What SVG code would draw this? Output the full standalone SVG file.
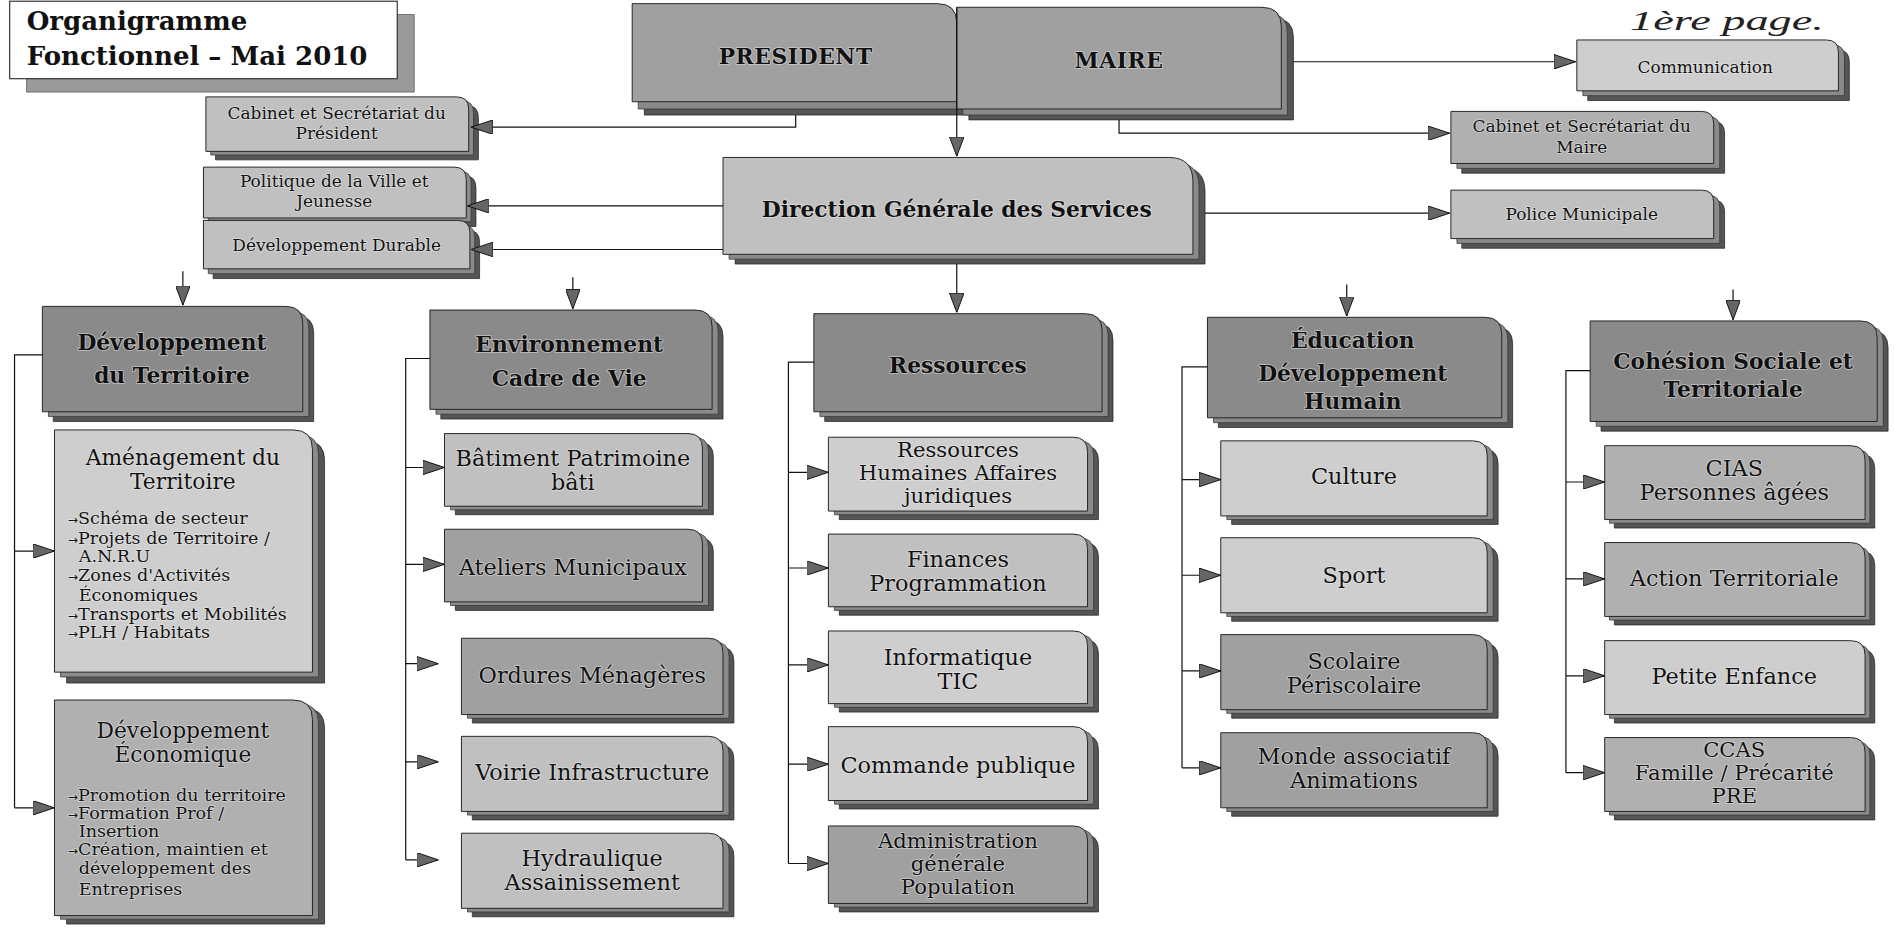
<svg xmlns="http://www.w3.org/2000/svg" xmlns:xlink="http://www.w3.org/1999/xlink" width="1899" height="938" viewBox="0 0 1899 938">
<style>
.face{stroke:#222;stroke-width:.8}
.shA{fill:#555;stroke:#222;stroke-width:.6}
.shB{fill:#8a8a8a;stroke:#333;stroke-width:.6}
.f1{fill:#cecece}.f2{fill:#c0c0c0}.f3{fill:#b0b0b0}.f4{fill:#a0a0a0}.f5{fill:#8a8a8a}
.t{font-family:"DejaVu Serif","Liberation Serif",serif;text-anchor:middle;fill:#111;stroke:#f2f2f2;stroke-opacity:.55;stroke-width:1.4;paint-order:stroke;stroke-linejoin:round}
.hd{font-weight:bold;font-size:18px}
.sb{font-size:18.5px}
.s3{font-size:17.5px}
.sm{font-size:14px}
.bt{font-size:18px}
.bl{font-size:14.5px;text-anchor:start}
.ar{font-family:"DejaVu Sans",sans-serif;font-size:10px}
.ln{fill:none;stroke:#111;stroke-width:1}
.title{font-family:"DejaVu Serif","Liberation Serif",serif;font-weight:bold;font-size:21.5px;fill:#111}
</style>
<defs>
<marker id="ah" viewBox="0 0 18 12" refX="18" refY="6" markerWidth="18" markerHeight="12" markerUnits="userSpaceOnUse" orient="auto"><path d="M0,0 L18,6 L0,12 Z" fill="#666" stroke="#111" stroke-width="0.8"/></marker>
<marker id="ahd" viewBox="0 0 16 12" refX="16" refY="6" markerWidth="16" markerHeight="12" markerUnits="userSpaceOnUse" orient="auto"><path d="M0,0 L16,6 L0,12 Z" fill="#666" stroke="#111" stroke-width="0.8"/></marker>
<path id="s-pres" d="M522,84 V3 H774 Q790,3 790,19 V84 Z"/>
<path id="s-maire" d="M790,90 V6 H1042 Q1058,6 1058,22 V90 Z"/>
<path id="s-dgs" d="M597,210 V130 H965 Q985,130 985,150 V210 Z"/>
<path id="s-comm" d="M1302,75 V33 H1508 Q1518,33 1518,43 V75 Z"/>
<path id="s-cabm" d="M1198,135 V92 H1405 Q1415,92 1415,102 V135 Z"/>
<path id="s-pol" d="M1198,197 V157 H1405 Q1415,157 1415,167 V197 Z"/>
<path id="s-cabp" d="M170,125 V80 H377 Q387,80 387,90 V125 Z"/>
<path id="s-pv" d="M168,180 V138 H375 Q385,138 385,148 V180 Z"/>
<path id="s-dd" d="M168,222 V182 H378 Q388,182 388,192 V222 Z"/>
<path id="s-h1" d="M35,340 V253 H236 Q250,253 250,267 V340 Z"/>
<path id="s-h2" d="M355,338 V256 H574 Q588,256 588,270 V338 Z"/>
<path id="s-h3" d="M672,340 V259 H896 Q910,259 910,273 V340 Z"/>
<path id="s-h4" d="M997,345 V262 H1226 Q1240,262 1240,276 V345 Z"/>
<path id="s-h5" d="M1313,348 V265 H1536 Q1550,265 1550,279 V348 Z"/>
<path id="s-am" d="M45,555 V355 H242 Q258,355 258,371 V555 Z"/>
<path id="s-de" d="M45,756 V578 H242 Q258,578 258,594 V756 Z"/>
<path id="s-bat" d="M367,418 V358 H568 Q580,358 580,370 V418 Z"/>
<path id="s-ate" d="M367,497 V437 H568 Q580,437 580,449 V497 Z"/>
<path id="s-ord" d="M381,590 V527 H585 Q597,527 597,539 V590 Z"/>
<path id="s-voi" d="M381,670 V608 H585 Q597,608 597,620 V670 Z"/>
<path id="s-hyd" d="M381,750 V688 H585 Q597,688 597,700 V750 Z"/>
<path id="s-rh" d="M684,422 V361 H886 Q898,361 898,373 V422 Z"/>
<path id="s-fin" d="M684,501 V441 H886 Q898,441 898,453 V501 Z"/>
<path id="s-inf" d="M684,581 V521 H886 Q898,521 898,533 V581 Z"/>
<path id="s-cmd" d="M684,661 V600 H886 Q898,600 898,612 V661 Z"/>
<path id="s-adm" d="M684,746 V682 H886 Q898,682 898,694 V746 Z"/>
<path id="s-cul" d="M1008,426 V364 H1216 Q1228,364 1228,376 V426 Z"/>
<path id="s-spo" d="M1008,506 V444 H1216 Q1228,444 1228,456 V506 Z"/>
<path id="s-sco" d="M1008,586 V524 H1216 Q1228,524 1228,536 V586 Z"/>
<path id="s-mon" d="M1008,667 V605 H1216 Q1228,605 1228,617 V667 Z"/>
<path id="s-cias" d="M1325,429 V368 H1528 Q1540,368 1540,380 V429 Z"/>
<path id="s-act" d="M1325,509 V448 H1528 Q1540,448 1540,460 V509 Z"/>
<path id="s-pet" d="M1325,590 V529 H1528 Q1540,529 1540,541 V590 Z"/>
<path id="s-ccas" d="M1325,670 V609 H1528 Q1540,609 1540,621 V670 Z"/>
</defs>
<rect width="1899" height="938" fill="#fff"/>
<g transform="scale(1.21109)">

<g id="title">
<rect x="22" y="12" width="320" height="64" fill="#9a9a9a" stroke="#555" stroke-width=".6"/>
<rect x="8" y="1" width="320" height="64" fill="#fff" stroke="#222" stroke-width=".9"/>
<text class="title" x="22" y="25">Organigramme</text>
<text class="title" x="22" y="54">Fonctionnel – Mai 2010</text>
</g>

<g id="handnote">
<text x="1346" y="25" font-family="Liberation Serif, serif" font-style="italic" font-size="23" fill="#222" textLength="160" lengthAdjust="spacingAndGlyphs">1ère page.</text>
</g>

<g id="n-president">
<use href="#s-pres" class="shA" transform="translate(10,11)"/>
<use href="#s-pres" class="shB" transform="translate(5,6)"/>
<use href="#s-pres" class="face f4"/>
<text class="t hd" x="657" y="53" letter-spacing=".5">PRESIDENT</text>
</g>
<g id="n-maire">
<use href="#s-maire" class="shA" transform="translate(10,9)"/>
<use href="#s-maire" class="shB" transform="translate(5,5)"/>
<use href="#s-maire" class="face f4"/>
<text class="t hd" x="924" y="56" letter-spacing=".5">MAIRE</text>
</g>
<g id="n-dgs">
<use href="#s-dgs" class="shA" transform="translate(10,8)"/>
<use href="#s-dgs" class="shB" transform="translate(5,4)"/>
<use href="#s-dgs" class="face f2"/>
<text class="t hd" x="790" y="179">Direction Générale des Services</text>
</g>
<g id="n-communication">
<use href="#s-comm" class="shA" transform="translate(9,8)"/>
<use href="#s-comm" class="shB" transform="translate(5,4)"/>
<use href="#s-comm" class="face f1"/>
<text class="t sm" x="1408" y="60">Communication</text>
</g>
<g id="n-cabinet-maire">
<use href="#s-cabm" class="shA" transform="translate(9,8)"/>
<use href="#s-cabm" class="shB" transform="translate(5,4)"/>
<use href="#s-cabm" class="face f3"/>
<text class="t sm" x="1306" y="109">Cabinet et Secrétariat du</text>
<text class="t sm" x="1306" y="126">Maire</text>
</g>
<g id="n-police">
<use href="#s-pol" class="shA" transform="translate(9,8)"/>
<use href="#s-pol" class="shB" transform="translate(5,4)"/>
<use href="#s-pol" class="face f2"/>
<text class="t sm" x="1306" y="182">Police Municipale</text>
</g>
<g id="n-cabinet-president">
<use href="#s-cabp" class="shA" transform="translate(8,7)"/>
<use href="#s-cabp" class="shB" transform="translate(4,3)"/>
<use href="#s-cabp" class="face f2"/>
<text class="t sm" x="278" y="98">Cabinet et Secrétariat du</text>
<text class="t sm" x="278" y="115">Président</text>
</g>
<g id="n-politique">
<use href="#s-pv" class="shA" transform="translate(8,7)"/>
<use href="#s-pv" class="shB" transform="translate(4,3)"/>
<use href="#s-pv" class="face f2"/>
<text class="t sm" x="276" y="154">Politique de la Ville et</text>
<text class="t sm" x="276" y="171">Jeunesse</text>
</g>
<g id="n-dev-durable">
<use href="#s-dd" class="shA" transform="translate(8,8)"/>
<use href="#s-dd" class="shB" transform="translate(4,4)"/>
<use href="#s-dd" class="face f2"/>
<text class="t sm" x="278" y="207">Développement Durable</text>
</g>

<g id="n-dev-territoire">
<use href="#s-h1" class="shA" transform="translate(9,8)"/>
<use href="#s-h1" class="shB" transform="translate(5,4)"/>
<use href="#s-h1" class="face f5"/>
<text class="t hd" x="142" y="289">Développement</text>
<text class="t hd" x="142" y="316">du Territoire</text>
</g>
<g id="n-environnement">
<use href="#s-h2" class="shA" transform="translate(9,8)"/>
<use href="#s-h2" class="shB" transform="translate(5,4)"/>
<use href="#s-h2" class="face f5"/>
<text class="t hd" x="470" y="291">Environnement</text>
<text class="t hd" x="470" y="319">Cadre de Vie</text>
</g>
<g id="n-ressources">
<use href="#s-h3" class="shA" transform="translate(9,8)"/>
<use href="#s-h3" class="shB" transform="translate(5,4)"/>
<use href="#s-h3" class="face f5"/>
<text class="t hd" x="791" y="308">Ressources</text>
</g>
<g id="n-education">
<use href="#s-h4" class="shA" transform="translate(9,8)"/>
<use href="#s-h4" class="shB" transform="translate(5,4)"/>
<use href="#s-h4" class="face f5"/>
<text class="t hd" x="1117" y="287">Éducation</text>
<text class="t hd" x="1117" y="315">Développement</text>
<text class="t hd" x="1117" y="338">Humain</text>
</g>
<g id="n-cohesion">
<use href="#s-h5" class="shA" transform="translate(9,8)"/>
<use href="#s-h5" class="shB" transform="translate(5,4)"/>
<use href="#s-h5" class="face f5"/>
<text class="t hd" x="1431" y="305">Cohésion Sociale et</text>
<text class="t hd" x="1431" y="328">Territoriale</text>
</g>

<g id="n-amenagement">
<use href="#s-am" class="shA" transform="translate(10,9)"/>
<use href="#s-am" class="shB" transform="translate(5,4)"/>
<use href="#s-am" class="face f1"/>
<text class="t bt" x="151" y="384">Aménagement du</text>
<text class="t bt" x="151" y="404">Territoire</text>
<text class="t bl" x="56" y="433"><tspan class="ar">→</tspan>Schéma de secteur</text>
<text class="t bl" x="56" y="449"><tspan class="ar">→</tspan>Projets de Territoire /</text>
<text class="t bl" x="65" y="464">A.N.R.U</text>
<text class="t bl" x="56" y="480"><tspan class="ar">→</tspan>Zones d'Activités</text>
<text class="t bl" x="65" y="496">Économiques</text>
<text class="t bl" x="56" y="512"><tspan class="ar">→</tspan>Transports et Mobilités</text>
<text class="t bl" x="56" y="527"><tspan class="ar">→</tspan>PLH / Habitats</text>
</g>
<g id="n-dev-economique">
<use href="#s-de" class="shA" transform="translate(10,7)"/>
<use href="#s-de" class="shB" transform="translate(5,3)"/>
<use href="#s-de" class="face f3"/>
<text class="t bt" x="151" y="609">Développement</text>
<text class="t bt" x="151" y="629">Économique</text>
<text class="t bl" x="56" y="661"><tspan class="ar">→</tspan>Promotion du territoire</text>
<text class="t bl" x="56" y="676"><tspan class="ar">→</tspan>Formation Prof /</text>
<text class="t bl" x="65" y="691">Insertion</text>
<text class="t bl" x="56" y="706"><tspan class="ar">→</tspan>Création, maintien et</text>
<text class="t bl" x="65" y="722">développement des</text>
<text class="t bl" x="65" y="739">Entreprises</text>
</g>

<g id="n-batiment">
<use href="#s-bat" class="shA" transform="translate(9,7)"/>
<use href="#s-bat" class="shB" transform="translate(5,3)"/>
<use href="#s-bat" class="face f2"/>
<text class="t sb" x="473" y="385">Bâtiment Patrimoine</text>
<text class="t sb" x="473" y="405">bâti</text>
</g>
<g id="n-ateliers">
<use href="#s-ate" class="shA" transform="translate(9,7)"/>
<use href="#s-ate" class="shB" transform="translate(5,3)"/>
<use href="#s-ate" class="face f4"/>
<text class="t sb" x="473" y="475">Ateliers Municipaux</text>
</g>
<g id="n-ordures">
<use href="#s-ord" class="shA" transform="translate(9,7)"/>
<use href="#s-ord" class="shB" transform="translate(5,3)"/>
<use href="#s-ord" class="face f4"/>
<text class="t sb" x="489" y="564">Ordures Ménagères</text>
</g>
<g id="n-voirie">
<use href="#s-voi" class="shA" transform="translate(9,7)"/>
<use href="#s-voi" class="shB" transform="translate(5,3)"/>
<use href="#s-voi" class="face f2"/>
<text class="t sb" x="489" y="644">Voirie Infrastructure</text>
</g>
<g id="n-hydraulique">
<use href="#s-hyd" class="shA" transform="translate(9,7)"/>
<use href="#s-hyd" class="shB" transform="translate(5,3)"/>
<use href="#s-hyd" class="face f2"/>
<text class="t sb" x="489" y="715">Hydraulique</text>
<text class="t sb" x="489" y="735">Assainissement</text>
</g>

<g id="n-rh">
<use href="#s-rh" class="shA" transform="translate(9,7)"/>
<use href="#s-rh" class="shB" transform="translate(5,3)"/>
<use href="#s-rh" class="face f1"/>
<text class="t s3" x="791" y="377">Ressources</text>
<text class="t s3" x="791" y="396">Humaines Affaires</text>
<text class="t s3" x="791" y="415">juridiques</text>
</g>
<g id="n-finances">
<use href="#s-fin" class="shA" transform="translate(9,7)"/>
<use href="#s-fin" class="shB" transform="translate(5,3)"/>
<use href="#s-fin" class="face f2"/>
<text class="t sb" x="791" y="468">Finances</text>
<text class="t sb" x="791" y="488">Programmation</text>
</g>
<g id="n-informatique">
<use href="#s-inf" class="shA" transform="translate(9,7)"/>
<use href="#s-inf" class="shB" transform="translate(5,3)"/>
<use href="#s-inf" class="face f1"/>
<text class="t sb" x="791" y="549">Informatique</text>
<text class="t sb" x="791" y="569">TIC</text>
</g>
<g id="n-commande">
<use href="#s-cmd" class="shA" transform="translate(9,7)"/>
<use href="#s-cmd" class="shB" transform="translate(5,3)"/>
<use href="#s-cmd" class="face f1"/>
<text class="t sb" x="791" y="638">Commande publique</text>
</g>
<g id="n-administration">
<use href="#s-adm" class="shA" transform="translate(9,7)"/>
<use href="#s-adm" class="shB" transform="translate(5,3)"/>
<use href="#s-adm" class="face f4"/>
<text class="t s3" x="791" y="700">Administration</text>
<text class="t s3" x="791" y="719">générale</text>
<text class="t s3" x="791" y="738">Population</text>
</g>

<g id="n-culture">
<use href="#s-cul" class="shA" transform="translate(9,7)"/>
<use href="#s-cul" class="shB" transform="translate(5,3)"/>
<use href="#s-cul" class="face f1"/>
<text class="t sb" x="1118" y="400">Culture</text>
</g>
<g id="n-sport">
<use href="#s-spo" class="shA" transform="translate(9,7)"/>
<use href="#s-spo" class="shB" transform="translate(5,3)"/>
<use href="#s-spo" class="face f1"/>
<text class="t sb" x="1118" y="481">Sport</text>
</g>
<g id="n-scolaire">
<use href="#s-sco" class="shA" transform="translate(9,7)"/>
<use href="#s-sco" class="shB" transform="translate(5,3)"/>
<use href="#s-sco" class="face f4"/>
<text class="t sb" x="1118" y="552">Scolaire</text>
<text class="t sb" x="1118" y="572">Périscolaire</text>
</g>
<g id="n-monde">
<use href="#s-mon" class="shA" transform="translate(9,7)"/>
<use href="#s-mon" class="shB" transform="translate(5,3)"/>
<use href="#s-mon" class="face f4"/>
<text class="t sb" x="1118" y="631">Monde associatif</text>
<text class="t sb" x="1118" y="651">Animations</text>
</g>

<g id="n-cias">
<use href="#s-cias" class="shA" transform="translate(8,7)"/>
<use href="#s-cias" class="shB" transform="translate(4,3)"/>
<use href="#s-cias" class="face f3"/>
<text class="t sb" x="1432" y="393">CIAS</text>
<text class="t sb" x="1432" y="413">Personnes âgées</text>
</g>
<g id="n-action">
<use href="#s-act" class="shA" transform="translate(8,7)"/>
<use href="#s-act" class="shB" transform="translate(4,3)"/>
<use href="#s-act" class="face f3"/>
<text class="t sb" x="1432" y="484">Action Territoriale</text>
</g>
<g id="n-petite-enfance">
<use href="#s-pet" class="shA" transform="translate(8,7)"/>
<use href="#s-pet" class="shB" transform="translate(4,3)"/>
<use href="#s-pet" class="face f1"/>
<text class="t sb" x="1432" y="565">Petite Enfance</text>
</g>
<g id="n-ccas">
<use href="#s-ccas" class="shA" transform="translate(8,7)"/>
<use href="#s-ccas" class="shB" transform="translate(4,3)"/>
<use href="#s-ccas" class="face f3"/>
<text class="t s3" x="1432" y="625">CCAS</text>
<text class="t s3" x="1432" y="644">Famille / Précarité</text>
<text class="t s3" x="1432" y="663">PRE</text>
</g>

<g id="connectors" class="ln">
<path d="M790,6 V129" marker-end="url(#ahd)"/>
<path d="M657,95 V105 H389" marker-end="url(#ah)"/>
<path d="M924,99 V110 H1197" marker-end="url(#ah)"/>
<path d="M1068,51 H1301" marker-end="url(#ah)"/>
<path d="M597,170 H386" marker-end="url(#ah)"/>
<path d="M597,206 H389" marker-end="url(#ah)"/>
<path d="M995,176 H1197" marker-end="url(#ah)"/>
<path d="M790,218 V258" marker-end="url(#ahd)"/>
<path d="M151,224 V252" marker-end="url(#ahd)"/>
<path d="M473,229 V255" marker-end="url(#ahd)"/>
<path d="M1112,235 V261" marker-end="url(#ahd)"/>
<path d="M1431,239 V264" marker-end="url(#ahd)"/>
<path d="M35,293 H12 V667"/>
<path d="M12,455 H45" marker-end="url(#ah)"/>
<path d="M12,667 H45" marker-end="url(#ah)"/>
<path d="M355,296 H335 V710"/>
<path d="M335,386 H367" marker-end="url(#ah)"/>
<path d="M335,466 H367" marker-end="url(#ah)"/>
<path d="M335,548 H362" marker-end="url(#ah)"/>
<path d="M335,629 H362" marker-end="url(#ah)"/>
<path d="M335,710 H362" marker-end="url(#ah)"/>
<path d="M672,299 H651 V713"/>
<path d="M651,390 H684" marker-end="url(#ah)"/>
<path d="M651,469 H684" marker-end="url(#ah)"/>
<path d="M651,549 H684" marker-end="url(#ah)"/>
<path d="M651,631 H684" marker-end="url(#ah)"/>
<path d="M651,713 H684" marker-end="url(#ah)"/>
<path d="M997,303 H976 V634"/>
<path d="M976,396 H1008" marker-end="url(#ah)"/>
<path d="M976,475 H1008" marker-end="url(#ah)"/>
<path d="M976,554 H1008" marker-end="url(#ah)"/>
<path d="M976,634 H1008" marker-end="url(#ah)"/>
<path d="M1313,306 H1293 V638"/>
<path d="M1293,398 H1325" marker-end="url(#ah)"/>
<path d="M1293,478 H1325" marker-end="url(#ah)"/>
<path d="M1293,558 H1325" marker-end="url(#ah)"/>
<path d="M1293,638 H1325" marker-end="url(#ah)"/>
</g>
</g>
</svg>
